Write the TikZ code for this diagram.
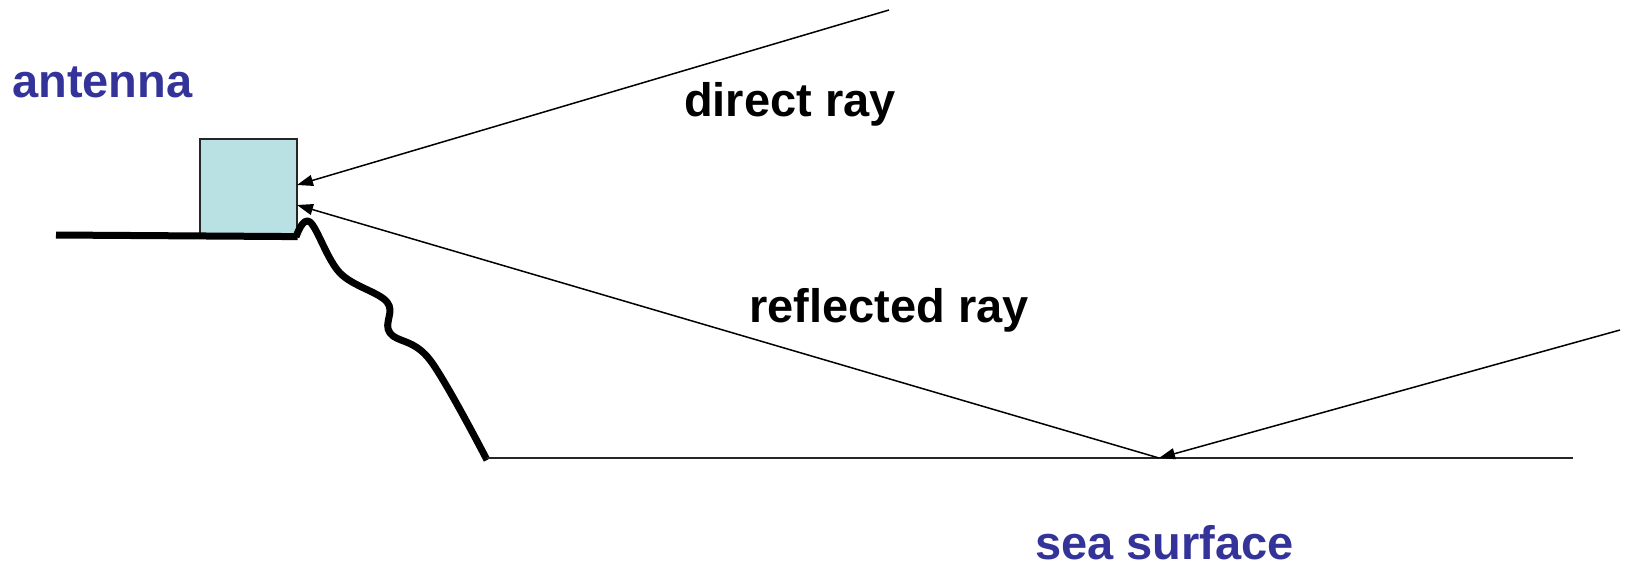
\documentclass[tikz,border=0pt]{standalone}
\usepackage{fontspec}
\setmainfont{Liberation Sans}
\usetikzlibrary{arrows.meta}
\definecolor{lblblue}{RGB}{51,51,153}
\definecolor{boxfill}{RGB}{185,224,227}
\tikzset{
  ray/.style={line width=1.5pt, -{Triangle[length=16pt,width=11pt]}},
  lbl/.style={anchor=base west, inner sep=0pt, font=\fontsize{47}{56}\selectfont\bfseries},
  thick line/.style={line width=7pt},
}
\begin{document}
\begin{tikzpicture}[x=1pt,y=-1pt]
\useasboundingbox (0,0) rectangle (1627,568);
% antenna box
\node[draw=black!85, line width=1.6pt, fill=boxfill, minimum width=97pt, minimum height=97pt, inner sep=0pt, anchor=north west] (ant) at (199,138) {};
% ground
\coordinate (g0) at (56,235);
\draw[thick line] (g0) -- (ant.south east);
% cliff
\draw[line width=7pt, line join=round] plot[smooth, tension=0.6] coordinates {(296,237) (310,222) (340,273) (387,302) (390,333) (430,360) (487,460)};
% sea
\coordinate (s0) at (487,458);
\coordinate (s1) at (1573,458);
\coordinate (refl) at (1159,458);
\draw[line width=1.5pt, black!85] (s0) -- (s1);
% rays
\coordinate (d0) at (889,10);
\coordinate (dtip) at (297,185);
\coordinate (rtip) at (297,205);
\coordinate (i0) at (1620,330);
\draw[ray] (d0) -- (dtip);
\draw[ray] (refl) -- (rtip);
\draw[ray] (i0) -- (refl);
% labels
\node[lbl, text=lblblue] (tant) at (12,97) {antenna};
\node[lbl] (tdir) at (684,116) {direct ray};
\node[lbl] (tref) at (749,322) {reflected ray};
\node[lbl, text=lblblue] (tsea) at (1035,559) {sea surface};
\end{tikzpicture}
\end{document}
